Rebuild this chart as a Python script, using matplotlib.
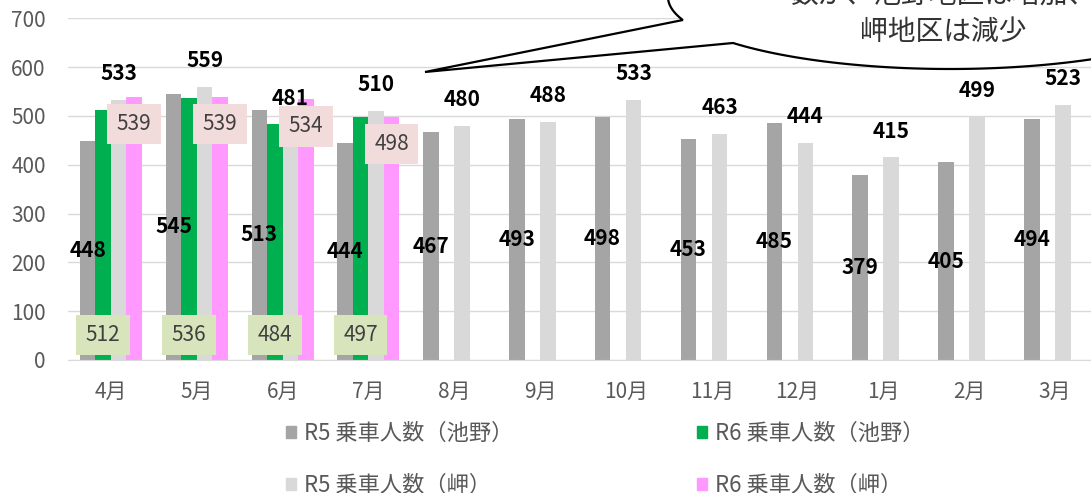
import numpy as np
import matplotlib
matplotlib.use("Agg")
import matplotlib.pyplot as plt
from matplotlib.path import Path
from matplotlib.patches import PathPatch, Patch

plt.rcParams['font.family'] = ['Noto Sans CJK JP', 'DejaVu Sans']

months = ["4月", "5月", "6月", "7月", "8月", "9月", "10月", "11月", "12月", "1月", "2月", "3月"]
r5_ikeno = [448, 545, 513, 444, 467, 493, 498, 453, 485, 379, 405, 494]
r6_ikeno = [512, 536, 484, 497]
r5_misaki = [533, 559, 481, 510, 480, 488, 533, 463, 444, 415, 499, 523]
r6_misaki = [539, 539, 534, 498]
series_names = ["R5 乗車人数（池野）", "R6 乗車人数（池野）", "R5 乗車人数（岬）", "R6 乗車人数（岬）"]
colors = ["#a5a5a5", "#00b050", "#d9d9d9", "#ff99ff"]

W, H = 1091, 493
fig = plt.figure(figsize=(W / 100, H / 100), dpi=100)
ax = fig.add_axes([68 / W, 1 - 360 / H, (1098 - 68) / W, (360 - 18.3) / H])

x = np.arange(len(months))
w = 0.181
data = [r5_ikeno, r6_ikeno, r5_misaki, r6_misaki]
for i, vals in enumerate(data):
    xs = x[:len(vals)] + (i - 1.5) * w
    ax.bar(xs, vals, width=w, color=colors[i], zorder=2)

ax.set_xlim(-0.5, 11.5)
ax.set_ylim(0, 700)
ax.set_yticks(range(0, 701, 100))
ax.set_xticks(x)
ax.set_xticklabels(months)
ax.grid(axis="y", color="#d9d9d9", lw=1, zorder=0)
for s in ["top", "right", "left"]:
    ax.spines[s].set_visible(False)
ax.spines["bottom"].set_color("#d9d9d9")
ax.tick_params(axis="both", length=0, labelsize=15, labelcolor="#595959")
ax.tick_params(axis="y", pad=16)
ax.tick_params(axis="x", pad=15)

# data labels
for xi, v in zip(x - 1.5 * w, r5_ikeno):
    ax.text(xi, v / 2, str(v), ha="center", va="center", fontsize=15,
            fontweight="bold", color="black", zorder=5)
for xi, v in zip(x + 0.5 * w, r5_misaki):
    ax.annotate(str(v), (xi, v), xytext=(0, 19), textcoords="offset points",
                ha="center", va="center", fontsize=15, fontweight="bold",
                color="black", zorder=5)
for xi, v in zip(x[:len(r6_ikeno)] - 0.5 * w, r6_ikeno):
    ax.annotate(str(v), (xi, 0), xytext=(0, 18), textcoords="offset points",
                ha="center", va="center", fontsize=15, color="#404040", zorder=6,
                bbox=dict(boxstyle="square,pad=0.45", fc="#d8e4bc", ec="none"))
for xi, v in zip(x[:len(r6_misaki)] + 1.5 * w, r6_misaki):
    ax.annotate(str(v), (xi, v), xytext=(0, -19.5), textcoords="offset points",
                ha="center", va="center", fontsize=15, color="#404040", zorder=6,
                bbox=dict(boxstyle="square,pad=0.45", fc="#f2dcdb", ec="none"))

# legend: R5/R6 池野 on the first row, R5/R6 岬 on the second
order = [0, 2, 1, 3]
handles = [Patch(color=colors[i]) for i in order]
labels = [series_names[i] for i in order]
fig.legend(handles, labels, loc="upper left", bbox_to_anchor=(277 / W, 1 - 413 / H),
           ncol=2, frameon=False, fontsize=16, labelcolor="#595959",
           handlelength=0.45, handleheight=0.45, handletextpad=0.36,
           columnspacing=8.28, labelspacing=1.32, borderaxespad=0)

# speech bubble callout (pixel coords, y down)
cx, cy, a, b = 950, -3, 282, 72
t1 = np.arctan2((43 - cy) / b, (733 - cx) / a)
t2 = np.arctan2((20 - cy) / b, (683 - cx) / a) - 2 * np.pi
ts = np.linspace(t1, t2, 200)
px = list(cx + a * np.cos(ts)) + [425, cx + a * np.cos(t1)]
py = list(cy + b * np.sin(ts)) + [72, cy + b * np.sin(t1)]
verts = [(u / W, 1 - v / H) for u, v in zip(px, py)]
codes = [Path.MOVETO] + [Path.LINETO] * (len(verts) - 2) + [Path.CLOSEPOLY]
bubble = PathPatch(Path(verts, codes), transform=fig.transFigure, fc="white",
                   ec="black", lw=1.6, zorder=10)
fig.patches.append(bubble)
fig.text(943 / W, 1 + 4 / H, "数が、池野地区は増加、", ha="center", va="center",
         fontsize=20, color="#333333", zorder=11)
fig.text(943 / W, 1 - 32 / H, "岬地区は減少", ha="center", va="center",
         fontsize=20, color="#333333", zorder=11)

fig.savefig("out.png", dpi=100)
